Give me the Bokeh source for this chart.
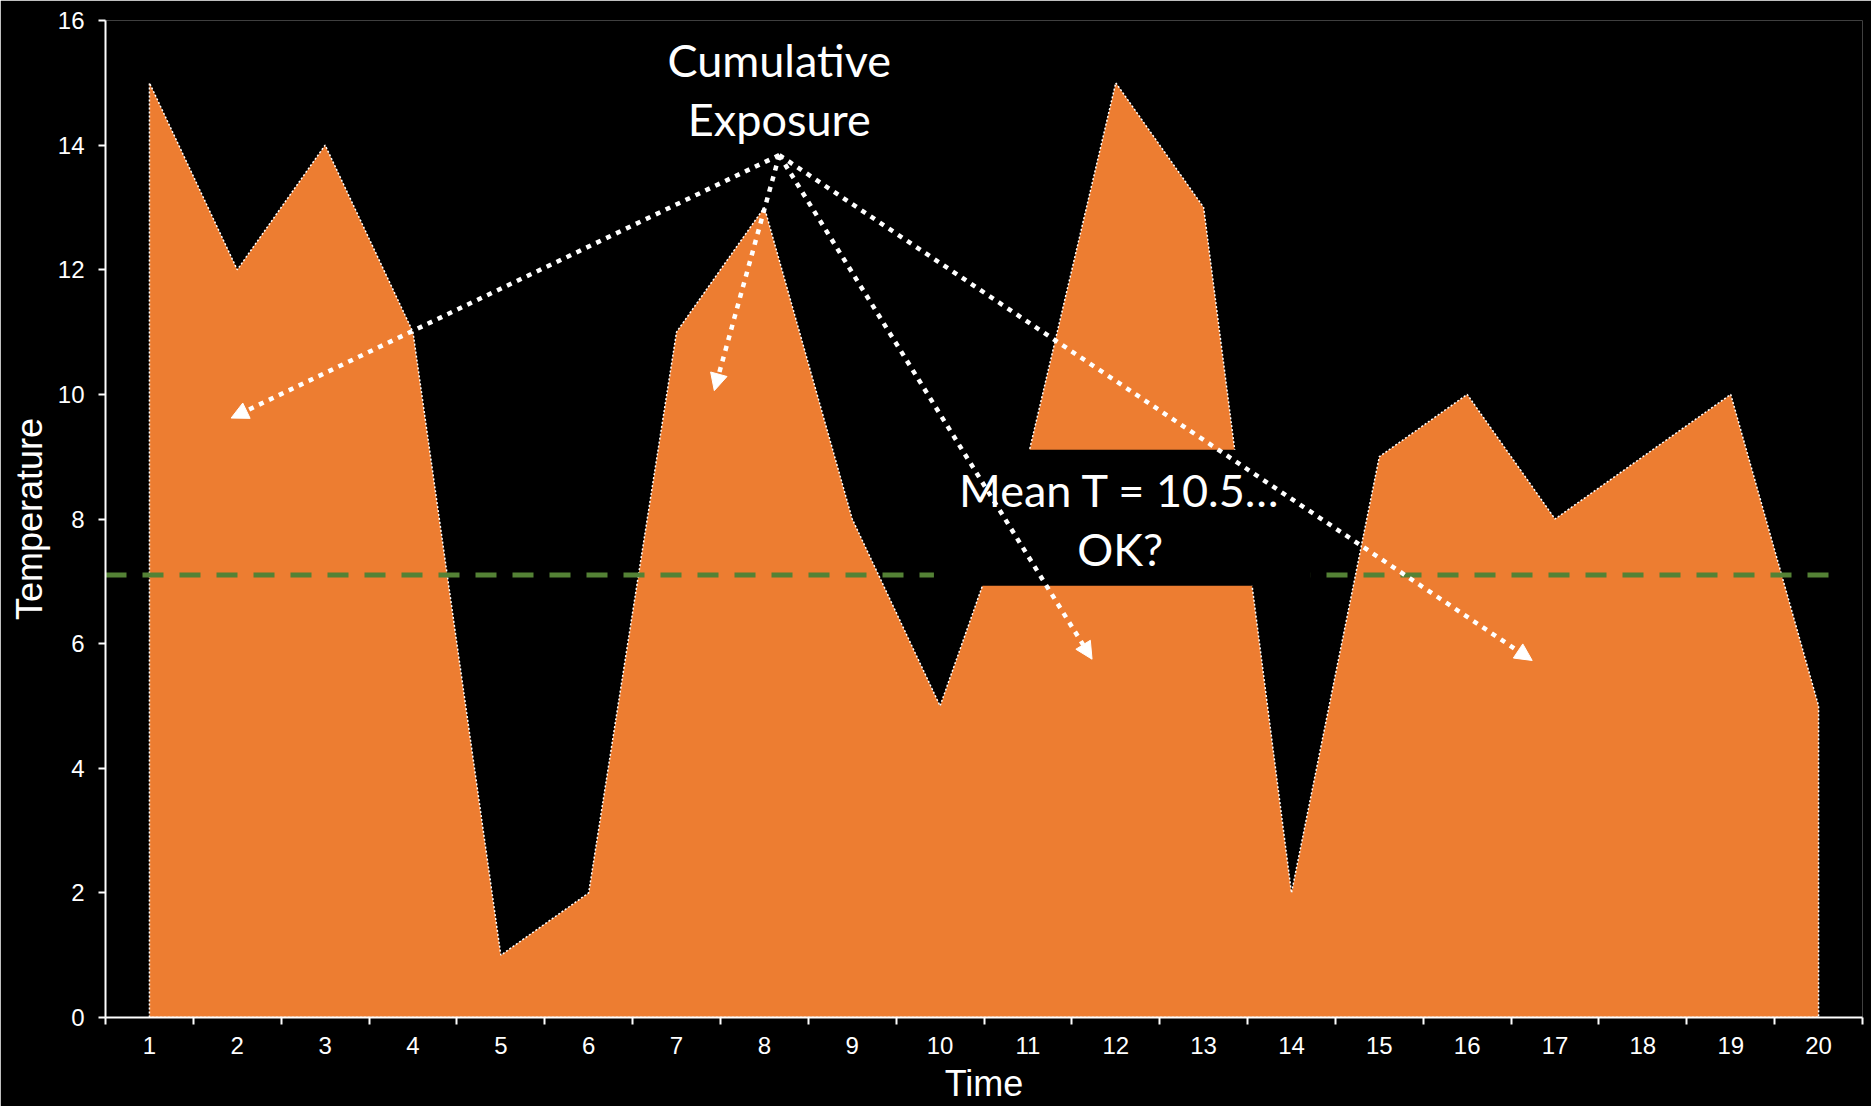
from bokeh.plotting import figure
from bokeh.models import (FixedTicker, BoxAnnotation, Label, Arrow, NormalHead)
from bokeh.embed import file_html
from bokeh.resources import INLINE

# Temperature readings per time step
time = list(range(1, 21))
temperature = [15, 12, 14, 11, 1, 2, 11, 13, 8, 5, 9, 15, 13, 2, 9, 10, 8, 9, 10, 5]

# Reference (threshold) level drawn as a dashed line
ref_x = [0.5, 20.15]
ref_y = [7.1, 7.1]

# Arrow targets for the "Cumulative Exposure" callout
arrow_origin = (8.17, 13.84)
arrow_tips_x = [1.93, 7.43, 11.73, 16.74]
arrow_tips_y = [9.62, 10.06, 5.75, 5.73]

# Callout box behind the "Mean T" note
note_box = dict(left=9.93, right=14.22, bottom=6.93, top=9.11)

y_ticks = list(range(0, 17, 2))
x_boundaries = [t - 0.5 for t in time] + [time[-1] + 0.5]

ORANGE = "#ED7D31"
GREEN = "#548235"

p = figure(width=1871, height=1106, x_range=(0.5, 20.5), y_range=(0, 16),
           output_backend="svg", toolbar_location=None,
           min_border_left=105, min_border_right=9,
           min_border_top=20, min_border_bottom=89)
p.background_fill_color = "black"
p.border_fill_color = "black"
p.outline_line_color = None
p.grid.visible = False

# Filled exposure area with dotted white outline
outline_x = [time[0]] + time + [time[-1], time[0]]
outline_y = [0] + temperature + [0, 0]
p.patch(outline_x, outline_y, fill_color=ORANGE, fill_alpha=1.0,
        line_color="white", line_width=1.5, line_dash="2 2")

# Dashed reference level
p.line(ref_x, ref_y, line_color=GREEN, line_width=5, line_dash="21 16")

# Axes
xax = p.xaxis[0]
xax.ticker = FixedTicker(ticks=time, minor_ticks=x_boundaries)
xax.axis_label = "Time"
yax = p.yaxis[0]
yax.ticker = FixedTicker(ticks=y_ticks, minor_ticks=[])
yax.axis_label = "Temperature"

for ax in (xax, yax):
    ax.axis_line_color = "white"
    ax.axis_line_width = 2
    ax.major_label_text_color = "white"
    ax.major_label_text_font = "Liberation Sans"
    ax.major_label_text_font_size = "24px"
    ax.axis_label_text_color = "white"
    ax.axis_label_text_font = "Liberation Sans"
    ax.axis_label_text_font_size = "36px"
    ax.axis_label_text_font_style = "normal"

xax.major_tick_line_color = None
xax.minor_tick_line_color = "white"
xax.minor_tick_line_width = 2
xax.minor_tick_out = 7
xax.minor_tick_in = 0
xax.major_label_standoff = 12
xax.axis_label_standoff = 6

yax.major_tick_line_color = "white"
yax.major_tick_line_width = 2
yax.major_tick_out = 7
yax.major_tick_in = 0
yax.minor_tick_line_color = None
yax.major_label_standoff = 14
yax.axis_label_standoff = 5

# Note box covering part of the chart
p.add_layout(BoxAnnotation(fill_color="black", fill_alpha=1.0, line_color=None,
                           **note_box))

p.add_layout(Label(x=12.05, y=7.99, text="Mean T = 10.5…\nOK?",
                   text_align="center", text_baseline="middle",
                   text_font="Lato", text_font_size="45px",
                   text_color="white", text_line_height=1.1))

p.add_layout(Label(x=8.17, y=14.89, text="Cumulative\nExposure",
                   text_align="center", text_baseline="middle",
                   text_font="Lato", text_font_size="45px",
                   text_color="white", text_line_height=1.1))

for tx, ty in zip(arrow_tips_x, arrow_tips_y):
    p.add_layout(Arrow(x_start=arrow_origin[0], y_start=arrow_origin[1],
                       x_end=tx, y_end=ty,
                       line_color="white", line_width=4.5, line_dash="5 6",
                       end=NormalHead(size=17, fill_color="white",
                                      line_color="white", line_width=1)))

open("out.html", "w").write(file_html(p, INLINE))
